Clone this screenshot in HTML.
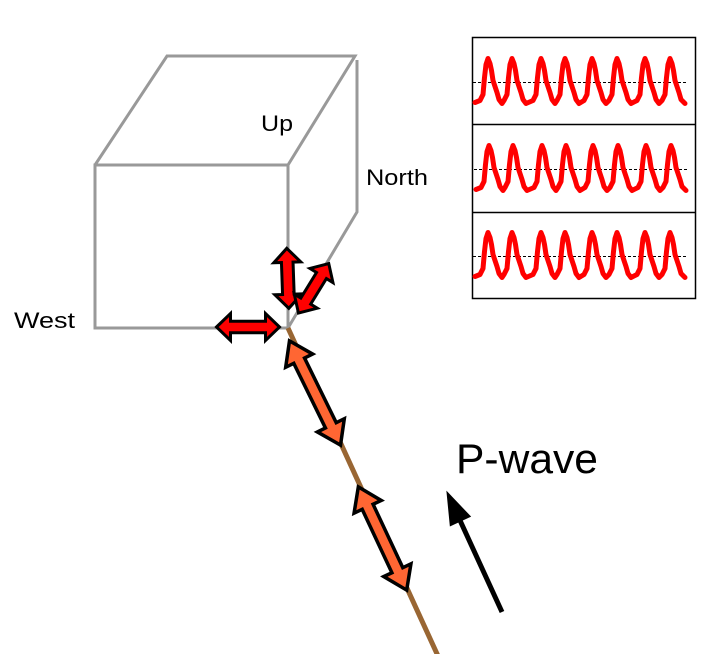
<!DOCTYPE html>
<html><head><meta charset="utf-8"><style>
html,body{margin:0;padding:0;background:#fff;}
svg{display:block;}
text{font-family:"Liberation Sans",Arial,sans-serif;fill:#000;}
</style></head><body>
<svg width="704" height="654" viewBox="0 0 704 654" xmlns="http://www.w3.org/2000/svg">
<rect width="704" height="654" fill="#fff"/>
<!-- cube -->
<g fill="none" stroke="#999" stroke-width="3" stroke-linejoin="miter">
<polygon points="95,165 288,165 288,328 95,328"/>
<polyline points="95,165 167,56 355,56 288,165"/>
<polyline points="357,60 357,212 288,328"/>
</g>
<!-- brown line -->
<line x1="288" y1="328" x2="438" y2="656" stroke="#996633" stroke-width="5"/>
<!-- orange arrows -->
<g fill="#ff6633" stroke="#000" stroke-width="3.5" stroke-linejoin="miter">
<polygon transform="translate(315,393) rotate(63.9)" points="-58,0 -36,-15 -36,-6 36,-6 36,-15 58,0 36,15 36,6 -36,6 -36,15"/>
<polygon transform="translate(382.5,538.5) rotate(64.9)" points="-57,0 -35,-15 -35,-6 35,-6 35,-15 57,0 35,15 35,6 -35,6 -35,15"/>
</g>
<!-- red arrows -->
<g fill="#ff0000" stroke="#000" stroke-width="3" stroke-linejoin="miter">
<polygon transform="translate(287.8,278.3) rotate(88)" points="-30,0 -16,-13.5 -16,-5.8 16,-5.8 16,-13.5 30,0 16,13.5 16,5.8 -16,5.8 -16,13.5"/>
<polygon transform="translate(313.6,288.3) rotate(-58.5)" points="-29,0 -15,-13.5 -15,-5.8 15,-5.8 15,-13.5 29,0 15,13.5 15,5.8 -15,5.8 -15,13.5"/>
<polygon transform="translate(248,327)" points="-31.5,0 -17.5,-13.5 -17.5,-5.8 17.5,-5.8 17.5,-13.5 31.5,0 17.5,13.5 17.5,5.8 -17.5,5.8 -17.5,13.5"/>
</g>
<!-- P-wave arrow -->
<line x1="502" y1="612" x2="458" y2="516" stroke="#000" stroke-width="5"/>
<polygon points="447,492 470.3,516.5 450.3,525.7" fill="#000" stroke="#000" stroke-width="1"/>
<!-- labels -->
<text x="261" y="131" font-size="22" textLength="32" lengthAdjust="spacingAndGlyphs">Up</text>
<text x="366" y="185" font-size="22" textLength="62" lengthAdjust="spacingAndGlyphs">North</text>
<text x="14" y="328" font-size="22" textLength="61" lengthAdjust="spacingAndGlyphs">West</text>
<text x="456" y="473" font-size="42" textLength="142" lengthAdjust="spacingAndGlyphs">P-wave</text>
<!-- chart box -->
<g fill="none" stroke="#000" stroke-width="1.5">
<rect x="472.5" y="37.5" width="223" height="261"/>
<line x1="472" y1="124.5" x2="696" y2="124.5"/>
<line x1="472" y1="212.5" x2="696" y2="212.5"/>
</g>
<defs>
<g id="wave">
<line x1="473" y1="0" x2="687" y2="0" stroke="#000" stroke-width="1" stroke-dasharray="3 2"/>
<polyline fill="none" stroke="#ff0000" stroke-width="5" stroke-linejoin="round" stroke-linecap="round" points="
475,20 480,18 483,12 484.5,-5 486,-18 488,-24 490,-19 491.5,-12 493,-2 495,4 497,10 499,17 502,21
504,18 507,12 508.5,-5 510,-18 512,-24 514,-19 515.5,-12 517,-2 519,4 521,10 523,17 526,21
533,18 536,12 537.5,-5 539,-18 541,-24 543,-19 544.5,-12 546,-2 548,4 550,10 552,17 555,21
557,18 560,12 561.5,-5 563,-18 565,-24 567,-19 568.5,-12 570,-2 572,4 574,10 576,17 579,21
584,18 587,12 588.5,-5 590,-18 592,-24 594,-19 595.5,-12 597,-2 599,4 601,10 603,17 606,21
609,18 612,12 613.5,-5 615,-18 617,-24 619,-19 620.5,-12 622,-2 624,4 626,10 628,17 631,21
637,18 640,12 641.5,-5 643,-18 645,-24 647,-19 648.5,-12 650,-2 652,4 654,10 656,17 659,21
662,18 665,12 666.5,-5 668,-18 670,-24 672,-19 673.5,-12 675,-2 677,4 679,10 681,17 685,21"/>
</g>
</defs>
<use href="#wave" transform="translate(0,82.5)"/>
<use href="#wave" transform="translate(1,169.5)"/>
<use href="#wave" transform="translate(0,256.5)"/>
</svg>
</body></html>
